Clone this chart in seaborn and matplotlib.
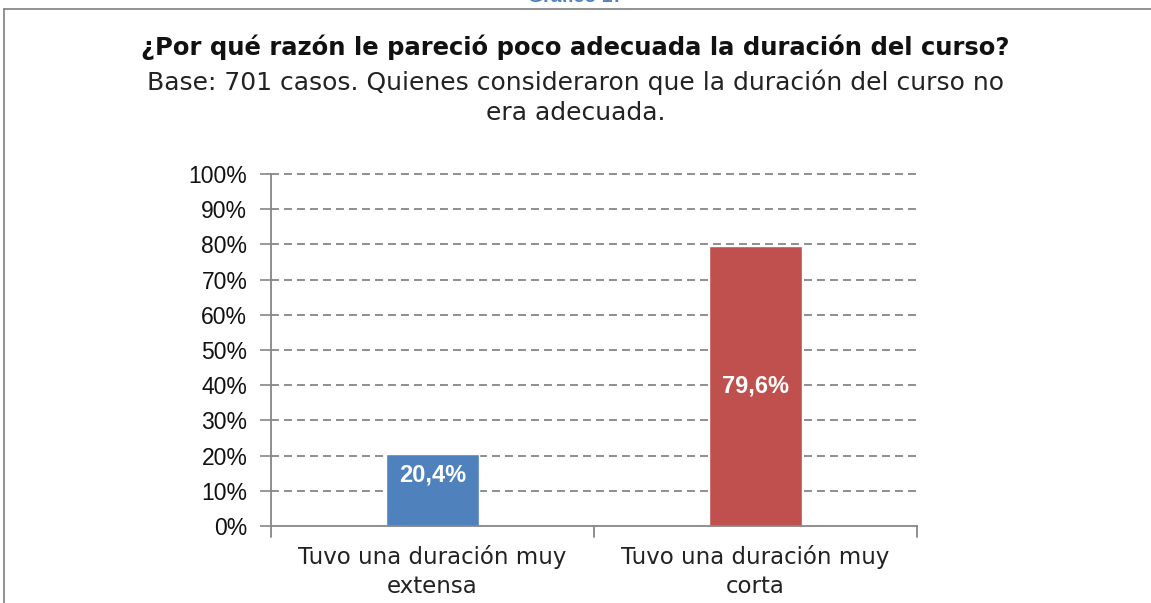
import matplotlib
matplotlib.use("Agg")
import matplotlib.pyplot as plt
import seaborn as sns
import pandas as pd

# Chart data
categorias = ["Tuvo una duración muy\nextensa", "Tuvo una duración muy\ncorta"]
porcentajes = [20.4, 79.6]
etiquetas = ["20,4%", "79,6%"]
colores = ["#4F81BD", "#C0504D"]
yticks = list(range(0, 101, 10))

df = pd.DataFrame({"cat": categorias, "pct": porcentajes})

sns.set_style("white")
plt.rcParams["font.family"] = ["Liberation Sans", "DejaVu Sans"]

fig = plt.figure(figsize=(11.51, 6.03), dpi=100)
ax = fig.add_axes([0.2354, 0.1277, 0.5613, 0.5837])

sns.barplot(data=df, x="cat", y="pct", hue="cat", palette=colores,
            width=0.288, legend=False, ax=ax, saturation=1)

ax.set_xlim(-0.5, 1.5)
ax.set_ylim(0, 100)
ax.set_yticks(yticks)
ax.set_yticklabels([f"{t}%" for t in yticks], fontsize=16.5, color="#111111")
ax.set_xlabel("")
ax.set_ylabel("")
ax.set_xticks([0, 1])
ax.set_xticklabels(categorias, fontsize=16.5, color="#222222", family=["DejaVu Sans"],
                   linespacing=1.3)
ax.tick_params(axis="x", length=0, pad=14)
ax.tick_params(axis="y", length=8, width=1.2, color="#868686", pad=9, left=True)

# grid lines
for t in yticks[1:]:
    ax.axhline(t, color="#868686", lw=1.3, ls=(0, (4.4, 2.8)), zorder=0, clip_on=False)

for side in ["top", "right"]:
    ax.spines[side].set_visible(False)
for side in ["left", "bottom"]:
    ax.spines[side].set_color("#868686")
    ax.spines[side].set_linewidth(1.3)

# x category separators
for xv in [-0.5, 0.5, 1.5]:
    ax.plot([xv, xv], [0, -3], color="#868686", lw=1.3, clip_on=False)

# value labels
label_y = [porcentajes[0] - 6, porcentajes[1] / 2]
for i, (v, lab) in enumerate(zip(porcentajes, etiquetas)):
    ax.text(i, label_y[i], lab, ha="center", va="center", color="white",
            fontsize=17, fontweight="bold")

# titles
fig.text(0.5, 1 - 47 / 603, "¿Por qué razón le pareció poco adecuada la duración del curso?",
         ha="center", va="center", fontsize=17.5, fontweight="bold",
         family=["DejaVu Sans"], color="#111111")
fig.text(0.5, 1 - 97 / 603, "Base: 701 casos. Quienes consideraron que la duración del curso no\nera adecuada.",
         ha="center", va="center", fontsize=18, family=["DejaVu Sans"],
         linespacing=1.3, color="#222222")

# header (cut off at the top edge) and frame
fig.text(0.5, 1 - 6 / 603, "Gráfico 17", ha="center", va="bottom", fontsize=14,
         fontweight="bold", color="#4F81BD")
fig.add_artist(plt.Line2D([4 / 1151, 4 / 1151], [0, 1 - 9 / 603], color="#7F7F7F", lw=1.2))
fig.add_artist(plt.Line2D([4 / 1151, 1], [1 - 9 / 603, 1 - 9 / 603], color="#7F7F7F", lw=1.2))

fig.savefig("out.png", dpi=100)
